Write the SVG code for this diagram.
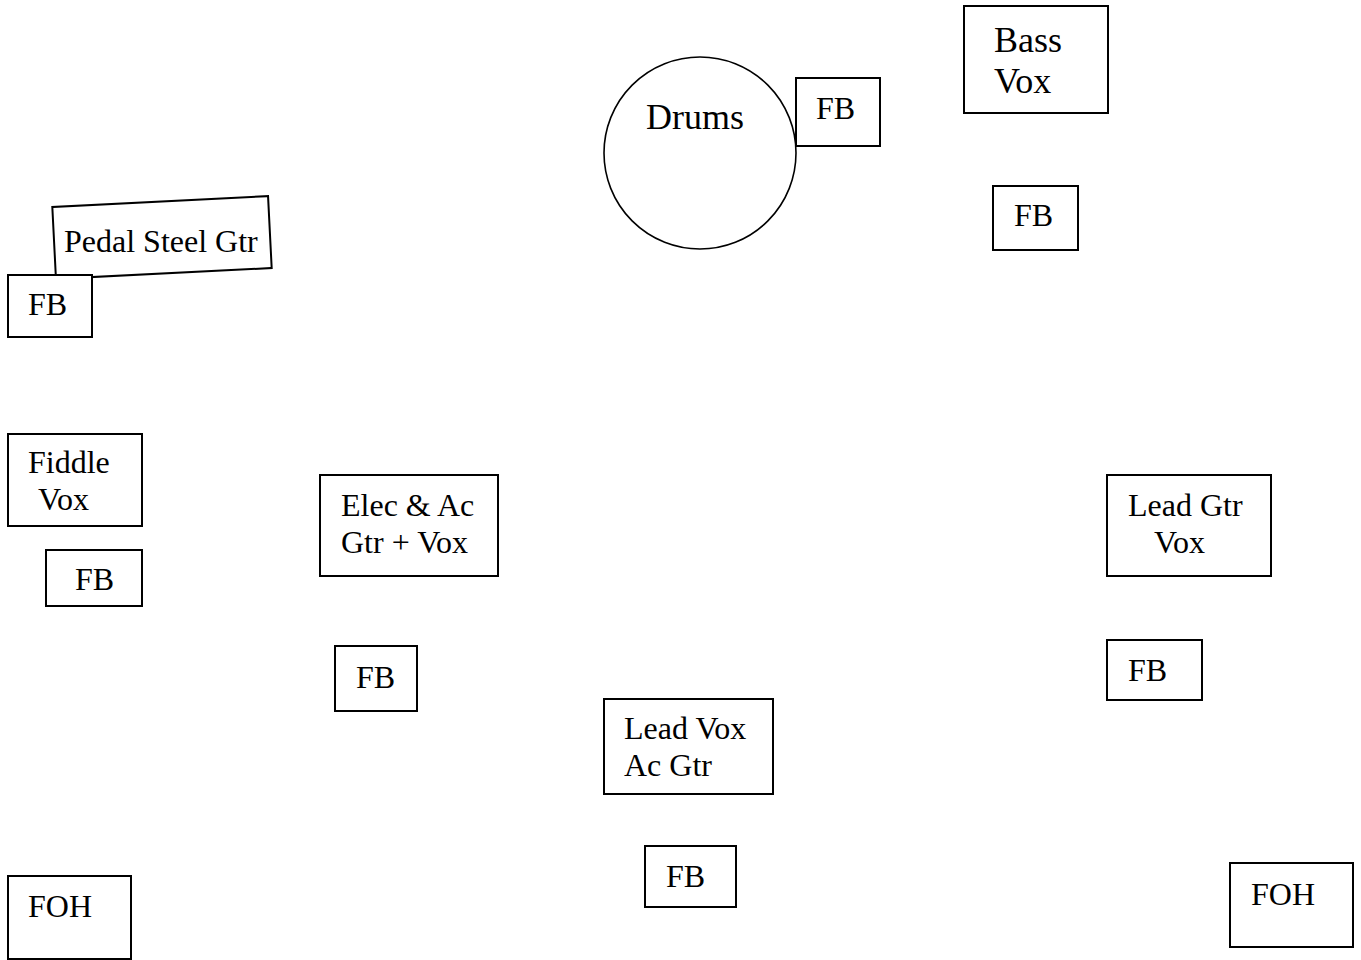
<svg xmlns="http://www.w3.org/2000/svg" width="1361" height="960" viewBox="0 0 1361 960">
<style>
.box{fill:#fff;stroke:#000;stroke-width:2}
.ring{fill:#fff;stroke:#000;stroke-width:1.6}
text{font-family:"Liberation Serif","Times New Roman",serif;font-size:32px;fill:#000}
.big{font-size:36px}
</style>
<rect width="1361" height="960" fill="#fff"/>
<g id="connectors"></g>
<g id="pedal-steel">
<rect class="box" x="-108" y="-36" width="216" height="72" transform="translate(162,237.5) rotate(-2.9)"/>
<text x="64" y="252">Pedal Steel Gtr</text>
</g>
<g id="fb-pedal"><rect class="box" x="8" y="275" width="84" height="62"/><text x="28" y="315">FB</text></g>
<g id="drums"><circle class="ring" cx="700" cy="153" r="96"/><text class="big" x="646" y="129">Drums</text></g>
<g id="fb-drums"><rect class="box" x="796" y="78" width="84" height="68"/><text x="816" y="119">FB</text></g>
<g id="bass-vox"><rect class="box" x="964" y="6" width="144" height="107"/><text class="big" x="994" y="52">Bass</text><text class="big" x="994" y="93">Vox</text></g>
<g id="fb-bass"><rect class="box" x="993" y="186" width="85" height="64"/><text x="1014" y="226">FB</text></g>
<g id="fiddle-vox"><rect class="box" x="8" y="434" width="134" height="92"/><text x="28" y="473">Fiddle</text><text x="38" y="510">Vox</text></g>
<g id="fb-fiddle"><rect class="box" x="46" y="550" width="96" height="56"/><text x="75" y="590">FB</text></g>
<g id="elec-ac"><rect class="box" x="320" y="475" width="178" height="101"/><text x="341" y="516">Elec &amp; Ac</text><text x="341" y="553">Gtr + Vox</text></g>
<g id="fb-elec"><rect class="box" x="335" y="646" width="82" height="65"/><text x="356" y="688">FB</text></g>
<g id="lead-gtr"><rect class="box" x="1107" y="475" width="164" height="101"/><text x="1128" y="516">Lead Gtr</text><text x="1154" y="553">Vox</text></g>
<g id="fb-lead-gtr"><rect class="box" x="1107" y="640" width="95" height="60"/><text x="1128" y="681">FB</text></g>
<g id="lead-vox"><rect class="box" x="604" y="699" width="169" height="95"/><text x="624" y="739">Lead Vox</text><text x="624" y="776">Ac Gtr</text></g>
<g id="fb-lead-vox"><rect class="box" x="645" y="846" width="91" height="61"/><text x="666" y="887">FB</text></g>
<g id="foh-left"><rect class="box" x="8" y="876" width="123" height="83"/><text x="28" y="917">FOH</text></g>
<g id="foh-right"><rect class="box" x="1230" y="863" width="123" height="84"/><text x="1251" y="905">FOH</text></g>
</svg>
